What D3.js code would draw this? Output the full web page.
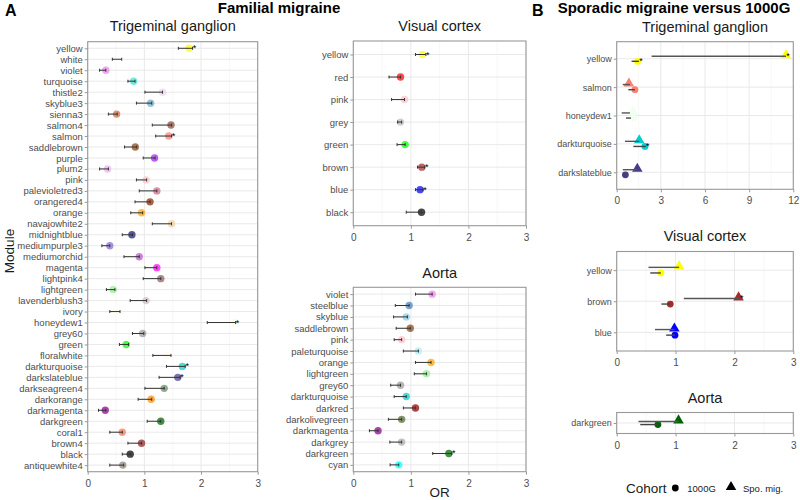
<!DOCTYPE html>
<html><head><meta charset="utf-8">
<script src="https://cdn.jsdelivr.net/npm/d3@7/dist/d3.min.js"></script>
<style>body{margin:0;background:#fff}svg{font-family:"Liberation Sans",Arial,sans-serif}</style>
</head><body><svg id="c" width="800" height="500"></svg>
<script>
// ---------- DATA ----------
// Panel A: Familial migraine, Trigeminal ganglion
const aTrigCats = ["yellow","white","violet","turquoise","thistle2","skyblue3","sienna3","salmon4","salmon","saddlebrown","purple","plum2","pink","palevioletred3","orangered4","orange","navajowhite2","midnightblue","mediumpurple3","mediumorchid","magenta","lightpink4","lightgreen","lavenderblush3","ivory","honeydew1","grey60","green","floralwhite","darkturquoise","darkslateblue","darkseagreen4","darkorange","darkmagenta","darkgreen","coral1","brown4","black","antiquewhite4"];
const aTrigOR = [1.79,0.55,0.32,0.81,1.32,1.11,0.51,1.47,1.43,0.84,1.18,0.35,1.03,1.22,1.10,0.95,1.48,0.78,0.39,0.91,1.22,1.29,0.45,1.03,0.48,2.60,0.97,0.68,1.40,1.67,1.59,1.35,1.12,0.31,1.29,0.61,0.95,0.75,0.62];
const aTrigLo = [1.60,0.435,0.21,0.71,1.01,0.86,0.365,1.14,1.20,0.65,0.98,0.21,0.86,0.91,0.835,0.76,1.14,0.61,0.25,0.64,1.01,0.98,0.33,0.75,0.39,2.11,0.79,0.56,1.15,1.39,1.26,1.01,0.89,0.19,1.05,0.39,0.71,0.61,0.39];
const aTrigHi = [1.85,0.60,0.32,0.835,1.32,1.13,0.52,1.48,1.48,0.865,1.19,0.365,1.04,1.22,1.10,0.97,1.48,0.79,0.39,0.91,1.22,1.29,0.48,1.04,0.57,2.61,0.99,0.72,1.47,1.72,1.63,1.35,1.13,0.32,1.29,0.61,0.95,0.76,0.635];
const aTrigSig = ["yellow","salmon","honeydew1","darkturquoise","darkslateblue"];

// Panel A: Visual cortex
const aVisCats = ["yellow","red","pink","grey","green","brown","blue","black"];
const aVisOR = [1.20,0.82,0.89,0.82,0.90,1.19,1.16,1.185];
const aVisLo = [1.08,0.62,0.665,0.77,0.76,1.115,1.08,0.92];
const aVisHi = [1.26,0.82,0.89,0.84,0.90,1.24,1.21,1.185];
const aVisSig = ["yellow","brown","blue"];

// Panel A: Aorta
const aAorCats = ["violet","steelblue","skyblue","saddlebrown","pink","paleturquoise","orange","lightgreen","grey60","darkturquoise","darkred","darkolivegreen","darkmagenta","darkgrey","darkgreen","cyan"];
const aAorOR = [1.37,0.97,0.92,0.99,0.84,1.13,1.35,1.27,0.82,0.92,1.08,0.84,0.43,0.84,1.66,0.79];
const aAorLo = [1.08,0.73,0.70,0.745,0.71,0.87,1.08,1.06,0.65,0.71,0.87,0.61,0.28,0.635,1.38,0.64];
const aAorHi = [1.37,0.97,0.94,0.99,0.84,1.13,1.35,1.27,0.82,0.92,1.08,0.84,0.43,0.84,1.71,0.79];
const aAorSig = ["darkgreen"];

// Panel B: Sporadic migraine versus 1000G (cohorts: "1000G" circle, "Spo. mig." triangle)
const bTrigCats = ["yellow","salmon","honeydew1","darkturquoise","darkslateblue"];
const bTrigOR_1000G = [1.42,1.24,1.15,1.92,0.59];
const bTrigLo_1000G = [1.01,0.79,0.63,1.13,0.45];
const bTrigHi_1000G = [1.51,1.24,0.97,1.98,0.60];
const bTrigSig_1000G = ["yellow","darkturquoise"];
const bTrigOR_Spo = [11.5,0.83,1.10,1.53,1.40];
const bTrigLo_Spo = [2.37,0.41,0.34,0.56,0.41];
const bTrigHi_Spo = [11.5,0.90,0.90,1.53,1.40];
const bTrigSig_Spo = ["yellow"];

const bVisCats = ["yellow","brown","blue"];
const bVisOR_1000G = [0.75,0.91,0.99];
const bVisLo_1000G = [0.57,0.76,0.84];
const bVisHi_1000G = [0.75,0.91,0.99];
const bVisSig_1000G = [];
const bVisOR_Spo = [1.06,2.07,0.98];
const bVisLo_Spo = [0.54,1.14,0.65];
const bVisHi_Spo = [1.06,2.09,0.98];
const bVisSig_Spo = ["brown"];

const bAorCats = ["darkgreen"];
const bAorOR_1000G = [0.70];
const bAorLo_1000G = [0.40];
const bAorHi_1000G = [0.70];
const bAorSig_1000G = [];
const bAorOR_Spo = [1.05];
const bAorLo_Spo = [0.37];
const bAorHi_Spo = [1.05];
const bAorSig_Spo = [];

const xTicks3 = [0,1,2,3];
const xTicks12 = [0,3,6,9,12];
const cohorts = ["1000G","Spo. mig."];

// R colour names -> hex
const rColors = {yellow:"#FFFF00",white:"#FFFFFF",violet:"#EE82EE",turquoise:"#40E0D0",thistle2:"#EED2EE",skyblue3:"#6CA6CD",sienna3:"#CD6839",salmon4:"#8B4C39",salmon:"#FA8072",saddlebrown:"#8B4513",purple:"#A020F0",plum2:"#EEAEEE",pink:"#FFC0CB",palevioletred3:"#CD6889",orangered4:"#8B2500",orange:"#FFA500",navajowhite2:"#EECFA1",midnightblue:"#191970",mediumpurple3:"#8968CD",mediumorchid:"#BA55D3",magenta:"#FF00FF",lightpink4:"#8B5F65",lightgreen:"#90EE90",lavenderblush3:"#CDC1C5",ivory:"#FFFFF0",honeydew1:"#F0FFF0",grey60:"#999999",green:"#00FF00",floralwhite:"#FFFAF0",darkturquoise:"#00CED1",darkslateblue:"#483D8B",darkseagreen4:"#698B69",darkorange:"#FF8C00",darkmagenta:"#8B008B",darkgreen:"#006400",coral1:"#FF7256",brown4:"#8B2323",black:"#000000",antiquewhite4:"#8B8378",red:"#FF0000",grey:"#BEBEBE",brown:"#A52A2A",blue:"#0000FF",steelblue:"#4682B4",skyblue:"#87CEEB",paleturquoise:"#AFEEEE",darkred:"#8B0000",darkolivegreen:"#556B2F",darkgrey:"#A9A9A9",cyan:"#00FFFF"};

// ---------- DRAW ----------
const svg = d3.select("#c");
const tickCol = "#4d4d4d";

function panel(o){
  const g = svg.append("g");
  const x = d3.scaleLinear().domain(o.domain).range([o.x0,o.x1]);
  const y = d3.scalePoint().domain(o.cats).range([o.y0,o.y1]).padding(0.6);
  // grid
  const minor = [];
  for(let i=0;i<o.ticks.length-1;i++) minor.push((o.ticks[i]+o.ticks[i+1])/2);
  g.selectAll(".mn").data(minor).enter().append("line")
    .attr("x1",d=>x(d)).attr("x2",d=>x(d)).attr("y1",o.y0).attr("y2",o.y1)
    .attr("stroke","#f2f2f2").attr("stroke-width",0.6);
  g.selectAll(".mj").data(o.ticks).enter().append("line")
    .attr("x1",d=>x(d)).attr("x2",d=>x(d)).attr("y1",o.y0).attr("y2",o.y1)
    .attr("stroke","#e6e6e6").attr("stroke-width",0.9);
  g.selectAll(".hy").data(o.cats).enter().append("line")
    .attr("x1",o.x0).attr("x2",o.x1).attr("y1",d=>y(d)).attr("y2",d=>y(d))
    .attr("stroke","#e6e6e6").attr("stroke-width",0.9);
  // axes
  const xa = g.append("g").attr("transform",`translate(0,${o.y1})`)
    .call(d3.axisBottom(x).tickValues(o.ticks).tickSize(3).tickSizeOuter(0).tickFormat(d3.format("d")));
  const ya = g.append("g").attr("transform",`translate(${o.x0},0)`)
    .call(d3.axisLeft(y).tickSize(3).tickSizeOuter(0));
  [xa,ya].forEach(a=>{
    a.select(".domain").remove();
    a.selectAll(".tick line").attr("stroke","#999").attr("stroke-width",1);
    a.selectAll(".tick text").attr("fill",tickCol).attr("font-size",o.fs||9.5)
      .attr("font-family","Liberation Sans, Arial, sans-serif");
  });
  xa.selectAll(".tick text").attr("dy","0.9em").attr("font-size",10);
  ya.selectAll(".tick text").attr("x",-5);
  // series
  const step = y.step();
  o.series.forEach(s=>{
    const off = (s.off||0)*step;
    const rows = o.cats.map((c,i)=>({c, or:s.or[i], lo:s.lo[i], hi:s.hi[i], sig:s.sig.includes(c)}));
    const sg = g.append("g");
    // points
    if(s.shape==="tri"){
      sg.selectAll("path").data(rows).enter().append("path")
        .attr("d",d3.symbol().type(d3.symbolTriangle).size(48))
        .attr("transform",d=>`translate(${x(d.or)},${y(d.c)+off-1})`)
        .attr("fill",d=>rColors[d.c]).attr("fill-opacity",s.alpha);
    } else {
      sg.selectAll("circle").data(rows).enter().append("circle")
        .attr("cx",d=>x(d.or)).attr("cy",d=>y(d.c)+off).attr("r",s.r||3.7)
        .attr("fill",d=>rColors[d.c]).attr("fill-opacity",s.alpha);
    }
    // error bars
    sg.selectAll(".eb").data(rows).enter().append("line")
      .attr("x1",d=>x(d.lo)).attr("x2",d=>x(d.hi))
      .attr("y1",d=>y(d.c)+off).attr("y2",d=>y(d.c)+off)
      .attr("stroke",s.lc).attr("stroke-width",s.lw);
    if(s.caps){
      ["lo","hi"].forEach(k=>{
        sg.selectAll(".cap"+k).data(rows).enter().append("line")
          .attr("x1",d=>x(d[k])).attr("x2",d=>x(d[k]))
          .attr("y1",d=>y(d.c)+off-1.5).attr("y2",d=>y(d.c)+off+1.5)
          .attr("stroke",s.lc).attr("stroke-width",s.lw);
      });
    }
    // significance stars
    sg.selectAll(".st").data(rows.filter(d=>d.sig)).enter().append("text")
      .attr("x",d=>x(Math.max(d.hi,d.or))+2).attr("y",d=>y(d.c)+off+3)
      .attr("font-size",9).attr("fill","#000").attr("text-anchor","middle").text("*");
  });
  // border
  g.append("rect").attr("x",o.x0).attr("y",o.y0).attr("width",o.x1-o.x0).attr("height",o.y1-o.y0)
    .attr("fill","none").attr("stroke","#999").attr("stroke-width",1.1);
  // title
  g.append("text").attr("x",(o.x0+o.x1)/2).attr("y",o.ty).attr("text-anchor","middle")
    .attr("font-size",14.5).attr("fill","#1a1a1a").text(o.title);
}

const aSeries = (or,lo,hi,sig)=>[{or,lo,hi,sig,shape:"circle",alpha:0.72,lc:"#333",lw:1,caps:true}];

panel({x0:87.7,x1:257.7,y0:41.7,y1:471.7,domain:[0,3],ticks:xTicks3,cats:aTrigCats,title:"Trigeminal ganglion",ty:31,
  series:aSeries(aTrigOR,aTrigLo,aTrigHi,aTrigSig)});
panel({x0:353.3,x1:526,y0:41,y1:225.7,domain:[0,3],ticks:xTicks3,cats:aVisCats,title:"Visual cortex",ty:31,
  series:aSeries(aVisOR,aVisLo,aVisHi,aVisSig)});
panel({x0:353.3,x1:526,y0:287.3,y1:471.7,domain:[0,3],ticks:xTicks3,cats:aAorCats,title:"Aorta",ty:278,
  series:aSeries(aAorOR,aAorLo,aAorHi,aAorSig)});

const bSeries = (or1,lo1,hi1,sig1,or2,lo2,hi2,sig2)=>[
  {or:or1,lo:lo1,hi:hi1,sig:sig1,shape:"circle",alpha:1,lc:"#444",lw:1.4,off:0.09,r:3.4},
  {or:or2,lo:lo2,hi:hi2,sig:sig2,shape:"tri",alpha:1,lc:"#555",lw:1.4,off:-0.09}];

panel({x0:616.7,x1:793.3,y0:41.7,y1:189.3,domain:[0,12],ticks:xTicks12,cats:bTrigCats,title:"Trigeminal ganglion",ty:31.5,fs:9,
  series:bSeries(bTrigOR_1000G,bTrigLo_1000G,bTrigHi_1000G,bTrigSig_1000G,bTrigOR_Spo,bTrigLo_Spo,bTrigHi_Spo,bTrigSig_Spo)});
panel({x0:616.7,x1:793.3,y0:251.5,y1:351,domain:[0,3],ticks:xTicks3,cats:bVisCats,title:"Visual cortex",ty:241,fs:9,
  series:bSeries(bVisOR_1000G,bVisLo_1000G,bVisHi_1000G,bVisSig_1000G,bVisOR_Spo,bVisLo_Spo,bVisHi_Spo,bVisSig_Spo)});
panel({x0:616.7,x1:793.3,y0:412.5,y1:433.5,domain:[0,3],ticks:xTicks3,cats:bAorCats,title:"Aorta",ty:402.5,fs:9,
  series:bSeries(bAorOR_1000G,bAorLo_1000G,bAorHi_1000G,bAorSig_1000G,bAorOR_Spo,bAorLo_Spo,bAorHi_Spo,bAorSig_Spo)});

// headings
svg.append("text").attr("x",5).attr("y",16).attr("font-size",16).attr("font-weight","bold").text("A");
svg.append("text").attr("x",279).attr("y",13).attr("text-anchor","middle").attr("font-size",15).attr("font-weight","bold").text("Familial migraine");
svg.append("text").attr("x",532).attr("y",16).attr("font-size",16).attr("font-weight","bold").text("B");
svg.append("text").attr("x",674).attr("y",13).attr("text-anchor","middle").attr("font-size",15).attr("font-weight","bold").text("Sporadic migraine versus 1000G");
// axis titles
svg.append("text").attr("transform","translate(14,251) rotate(-90)").attr("text-anchor","middle").attr("font-size",13.5).attr("fill","#1a1a1a").text("Module");
svg.append("text").attr("x",439.7).attr("y",497).attr("text-anchor","middle").attr("font-size",13.5).attr("fill","#1a1a1a").text("OR");
// legend
const lg = svg.append("g");
lg.append("text").attr("x",626).attr("y",492.5).attr("font-size",13.5).attr("fill","#1a1a1a").text("Cohort");
const lx = d3.scalePoint().domain(cohorts).range([675.3,731]);
lg.append("circle").attr("cx",lx("1000G")).attr("cy",488).attr("r",3.4).attr("fill","#000");
lg.append("path").attr("d",d3.symbol().type(d3.symbolTriangle).size(48)).attr("transform",`translate(${lx("Spo. mig.")},487)`).attr("fill","#000");
cohorts.forEach(c=>lg.append("text").attr("x",lx(c)+12).attr("y",491.5).attr("font-size",9.5).attr("fill","#1a1a1a").text(c));
</script></body></html>
